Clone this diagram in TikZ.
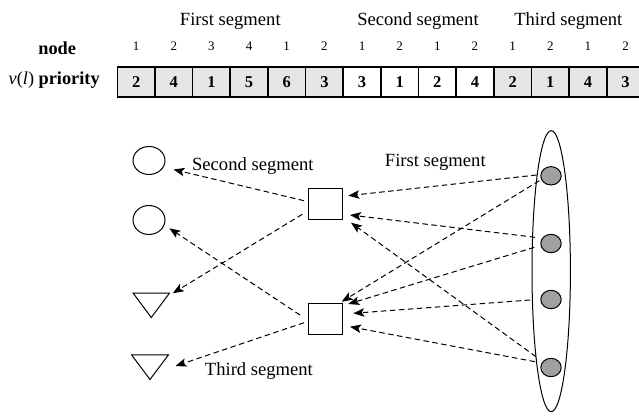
\documentclass[tikz,border=0pt]{standalone}
\usepackage{fontspec}
\setmainfont{Liberation Serif}
\usetikzlibrary{arrows.meta,shapes.geometric}
\definecolor{cellgray}{HTML}{E6E6E6}
\definecolor{dotgray}{HTML}{A0A0A0}
\begin{document}
\begin{tikzpicture}[x=1pt,y=1pt,
  lbl/.style={font=\fontsize{18.6}{20}\selectfont, inner sep=0pt, anchor=base},
  idx/.style={font=\fontsize{13}{14}\selectfont, inner sep=0pt, anchor=base},
  cellbox/.style={draw, line width=1.6pt, minimum width=37.65pt, minimum height=30pt, inner sep=0pt,
    font=\fontsize{16.5}{17}\selectfont\bfseries},
  ring/.style={ellipse, draw, line width=1pt, inner sep=0pt},
  sqbox/.style={rectangle, draw, line width=1pt, minimum width=33.7pt, minimum height=31.3pt, inner sep=0pt},
  tribox/.style={rectangle, inner sep=0pt, minimum width=36pt, minimum height=24pt},
  dot/.style={ellipse, draw, line width=1pt, fill=dotgray, minimum width=20.4pt, minimum height=18.4pt, inner sep=0pt},
  arr/.style={dashed, dash pattern=on 5.5pt off 3.5pt, line width=1pt, -{Stealth[length=11pt,width=8.5pt,inset=2.5pt]}}
]
\useasboundingbox (0,0) rectangle (639,415);

% header
\node[lbl] (h1) at (230.3,389) {First segment};
\node[lbl] (h2) at (418,389) {Second segment};
\node[lbl] (h3) at (568.3,389) {Third segment};
\node[lbl, font=\fontsize{18.3}{20}\selectfont\bfseries] (nodelbl) at (57.2,360) {node};
\node[lbl, font=\fontsize{18.3}{20}\selectfont] (prio) at (54.2,330) {\textit{v}(\textit{l}) \textbf{priority}};

% table
\foreach \v/\n/\c [count=\i] in {2/1/cellgray,4/2/cellgray,1/3/cellgray,5/4/cellgray,6/1/cellgray,3/2/cellgray,3/1/white,1/2/white,2/1/white,4/2/white,2/1/cellgray,1/2/cellgray,4/1/cellgray,3/2/cellgray} {
  \node[cellbox, fill=\c] (cell\i) at ({117.3+37.65*(\i-0.5)}, 332.7) {\v};
  \node[idx] (idx\i) at ({117.3+37.65*(\i-0.5)}, 364.3) {\n};
}

% left shapes
\node[ring, minimum width=32pt, minimum height=28pt] (c1) at (149,254.5) {};
\node[ring, minimum width=32pt, minimum height=29pt] (c2) at (149,195) {};
\node[tribox] (t1) at (151.3,109.7) {};
\node[tribox, minimum width=36.6pt, minimum height=24.3pt] (t2) at (150,47.9) {};
\draw[line width=1pt, line join=miter] (t1.north west) -- (t1.north east) -- (t1.south) -- cycle;
\draw[line width=1pt, line join=miter] (t2.north west) -- (t2.north east) -- (t2.south) -- cycle;

% squares
\node[sqbox] (s1) at (325.8,210.7) {};
\node[sqbox, minimum height=31pt] (s2) at (325.8,96.2) {};

% right group
\node[ring, minimum width=38.4pt, minimum height=281pt] (ell) at (551.2,143.8) {};
\node[dot] (g1) at (551,239.2) {};
\node[dot] (g2) at (551,171.5) {};
\node[dot] (g3) at (551,115.5) {};
\node[dot] (g4) at (551,47.5) {};

% labels
\node[lbl] (lsecond) at (252.8,244.3) {Second segment};
\node[lbl] (lfirst) at (435.3,248.3) {First segment};
\node[lbl] (lthird) at (258.9,39.3) {Third segment};

% arrows from the right group to the squares
\draw[arr] ([shift={(-14.3,0.8)}]g1.center) -- ([shift={(22.5,8.6)}]s1.center);
\draw[arr] ([shift={(-11.7,-4.9)}]g1.center) -- ([shift={(15.9,17.1)}]s2.center);
\draw[arr] ([shift={(-16,6.2)}]g2.center) -- ([shift={(24.2,-10.7)}]s1.center);
\draw[arr] ([shift={(-16.7,-3.8)}]g2.center) -- ([shift={(22.5,14.8)}]s2.center);
\draw[arr] ([shift={(-21,-0.5)}]g3.center) -- ([shift={(27.5,5.5)}]s2.center);
\draw[arr] ([shift={(-16,5.8)}]g4.center) -- ([shift={(24.2,-7.9)}]s2.center);
\draw[arr] ([shift={(-15,10.8)}]g4.center) -- ([shift={(25.2,-18.4)}]s1.center);

% arrows from the squares to the left shapes
\draw[arr] ([shift={(-21.8,3.6)}]s1.center) -- ([shift={(24.5,-9)}]c1.center);
\draw[arr] ([shift={(-23.5,-10)}]s1.center) -- ([shift={(21.4,12)}]t1.center);
\draw[arr] ([shift={(-25.8,3.8)}]s2.center) -- ([shift={(20.3,-8.3)}]c2.center);
\draw[arr] ([shift={(-21.8,-3.9)}]s2.center) -- ([shift={(25.5,1.1)}]t2.center);
\end{tikzpicture}
\end{document}
